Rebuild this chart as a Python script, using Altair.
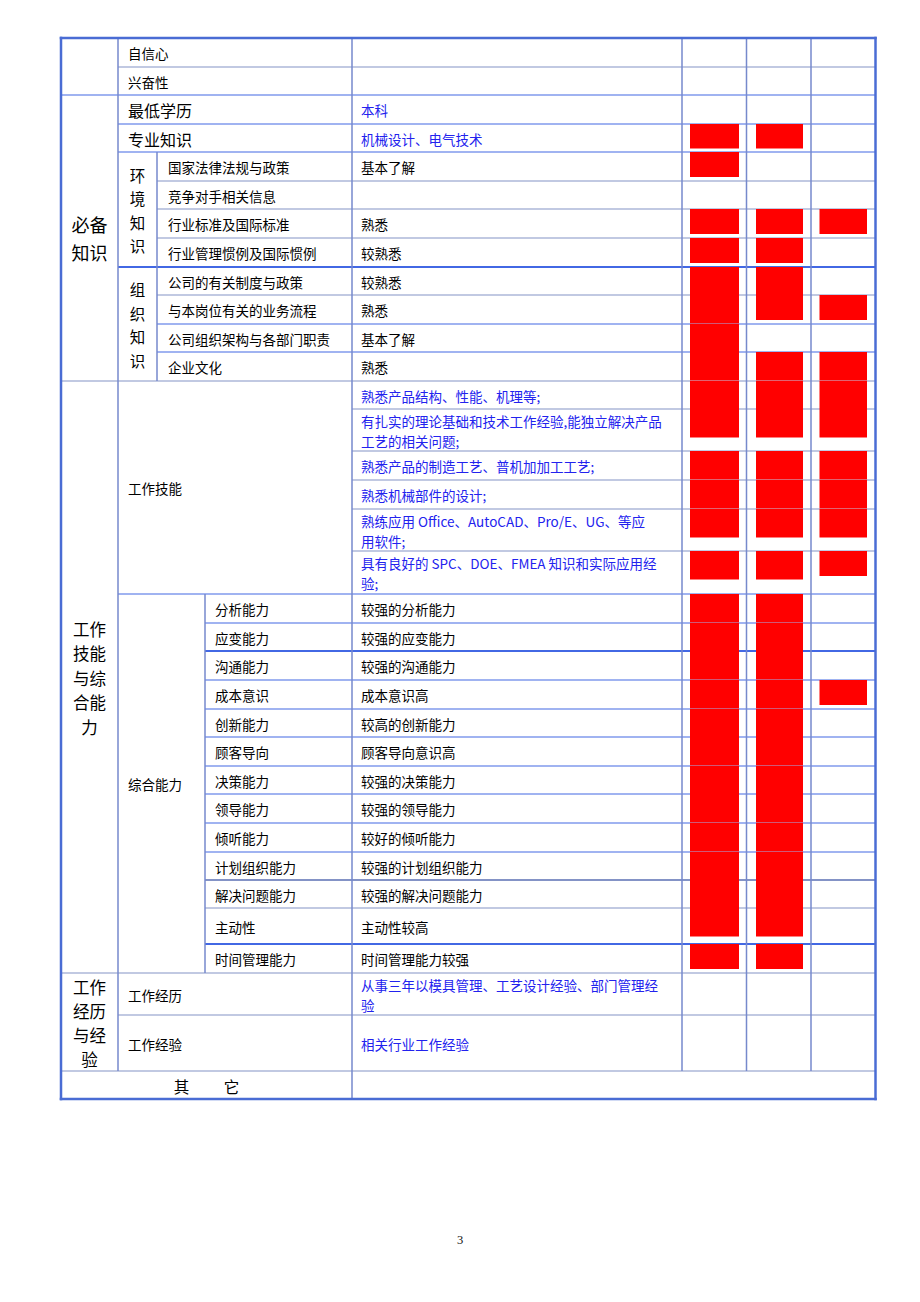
import altair as alt
import pandas as pd

# ---------------- data ----------------
items = ["自信心", "兴奋性", "最低学历", "专业知识",
         "国家法律法规与政策", "竞争对手相关信息", "行业标准及国际标准", "行业管理惯例及国际惯例",
         "公司的有关制度与政策", "与本岗位有关的业务流程", "公司组织架构与各部门职责", "企业文化",
         "", "", "", "", "", "",
         "分析能力", "应变能力", "沟通能力", "成本意识", "创新能力", "顾客导向", "决策能力",
         "领导能力", "倾听能力", "计划组织能力", "解决问题能力", "主动性", "时间管理能力",
         "工作经历", "工作经验", ""]

descriptions = ["", "", "本科", "机械设计、电气技术",
                "基本了解", "", "熟悉", "较熟悉",
                "较熟悉", "熟悉", "基本了解", "熟悉",
                "熟悉产品结构、性能、机理等;",
                "有扎实的理论基础和技术工作经验,能独立解决产品\n工艺的相关问题;",
                "熟悉产品的制造工艺、普机加加工工艺;",
                "熟悉机械部件的设计;",
                "熟练应用 Office、AutoCAD、Pro/E、UG、等应\n用软件;",
                "具有良好的 SPC、DOE、FMEA 知识和实际应用经\n验;",
                "较强的分析能力", "较强的应变能力", "较强的沟通能力", "成本意识高", "较高的创新能力",
                "顾客导向意识高", "较强的决策能力", "较强的领导能力", "较好的倾听能力",
                "较强的计划组织能力", "较强的解决问题能力", "主动性较高", "时间管理能力较强",
                "从事三年以模具管理、工艺设计经验、部门管理经\n验",
                "相关行业工作经验", ""]

col_a = [0, 0, 0, 1, 1, 0, 1, 1, 1, 1, 1, 1,
         1, 1, 1, 1, 1, 1,
         1, 1, 1, 1, 1, 1, 1, 1, 1, 1, 1, 1, 1,
         0, 0, 0]
col_b = [0, 0, 0, 1, 0, 0, 1, 1, 1, 1, 0, 1,
         1, 1, 1, 1, 1, 1,
         1, 1, 1, 1, 1, 1, 1, 1, 1, 1, 1, 1, 1,
         0, 0, 0]
col_c = [0, 0, 0, 0, 0, 0, 1, 0, 0, 1, 0, 1,
         1, 1, 1, 1, 1, 1,
         0, 0, 0, 1, 0, 0, 0, 0, 0, 0, 0, 0, 0,
         0, 0, 0]

group_labels = ["", "必备\n知识", "工作\n技能\n与综\n合能\n力", "工作\n经历\n与经\n验"]
sub_labels = ["环\n境\n知\n识", "组\n织\n知\n识"]
section_labels = ["工作技能", "综合能力"]
other_label = "其　　 它"
page_number = "3"

# ---------------- layout (positions / styles) ----------------
TOP = 38
row_heights = [29, 28, 29, 28, 29, 28, 29, 29, 28, 29, 28, 29, 28, 42, 29, 29, 42, 43,
               29, 28, 29, 29, 28, 29, 28, 29, 29, 28, 28, 36, 29, 42, 56, 28]
X0, X1, X2, X3, X4, XA, XB, XC, X5 = 61, 118, 157, 205, 352, 682, 746.5, 811, 875.5
red_cols = [(690, 739), (756, 803), (819.5, 867)]
gap_rows = {3, 4, 5, 6, 7}          # rows whose red block never joins the next one
group_spans = [(0, 2), (2, 12), (12, 31), (31, 33)]
group_sizes = [16, 18, 16.5, 16.5]
group_lh = [24, 28, 24.5, 24]
sub_spans = [(4, 8), (8, 12)]
section_spans = [(12, 18), (18, 31)]
item_x = [X1 + 10] * 4 + [X2 + 11] * 8 + [0] * 6 + [X3 + 10] * 13 + [X1 + 10] * 2 + [0]
item_size = [13.5, 13.5, 16, 16] + [13.5] * 30
BLUE_TXT = "#2222ee"
desc_blue = [0, 0, 1, 1] + [0] * 8 + [1] * 6 + [0] * 13 + [1, 1, 0]
h_start = [X1, X0, X1, X1, X2, X2, X2, X1, X2, X2, X2, X0,
           X4, X4, X4, X4, X4, X1,
           X3, X3, X3, X3, X3, X3, X3, X3, X3, X3, X3, X3, X0,
           X1, X0]
bright = {1, 2, 3, 7, 9, 10, 17, 18, 19, 20, 21, 22, 23, 24, 25, 26, 29}
thick = {7: 2, 19: 2, 27: 2, 29: 2}
DESC_LH = 20
SUB_LH = 23.5

tops = [TOP]
for h in row_heights:
    tops.append(tops[-1] + h)
BOTTOM = tops[-1]


def block_y(center, text, lh):
    """first-line position so that a multi-line block is centred"""
    n = text.count("\n") + 1
    return center - (n - 1) * lh / 2


def span_center(a, b):
    return (tops[a] + tops[b]) / 2

# ---------------- tables ----------------
lines = []
for i in range(len(row_heights) - 1):
    y = tops[i + 1]
    lines.append(dict(x=h_start[i], x2=X5, y=y, y2=y,
                      c="#4268e4" if i in bright else "#8493c6",
                      w=thick.get(i, 1.2)))
for xv, a, b in [(X1, TOP, tops[33]), (X2, tops[4], tops[12]), (X3, tops[18], tops[31]),
                 (X4, TOP, BOTTOM), (XA, TOP, tops[33]), (XB, TOP, tops[33]), (XC, TOP, tops[33])]:
    lines.append(dict(x=xv, x2=xv, y=a, y2=b, c="#7689cc", w=1.5))
lines_df = pd.DataFrame(lines)

border_df = pd.DataFrame([
    dict(x=X0, x2=X5, y=TOP, y2=TOP), dict(x=X0, x2=X5, y=BOTTOM, y2=BOTTOM),
    dict(x=X0, x2=X0, y=TOP, y2=BOTTOM), dict(x=X5, x2=X5, y=TOP, y2=BOTTOM)])

reds = []
for flags, (xa, xb) in zip([col_a, col_b, col_c], red_cols):
    for i, f in enumerate(flags):
        if f:
            h = min(row_heights[i], 28.5)
            nxt = flags[i + 1] if i + 1 < len(flags) else 0
            if not nxt or i in gap_rows:
                h -= 3.5
            reds.append(dict(x=xa, x2=xb, y=tops[i], y2=tops[i] + h))
red_df = pd.DataFrame(reds)

lt = []
for i, t in enumerate(items):
    if t:
        c = (tops[i] + tops[i + 1]) / 2
        lt.append(dict(x=item_x[i], y=block_y(c, t, DESC_LH), text=t,
                       size=item_size[i], c="#000000"))
for i, t in enumerate(descriptions):
    if t:
        c = (tops[i] + tops[i + 1]) / 2
        lt.append(dict(x=X4 + 9, y=block_y(c, t, DESC_LH), text=t,
                       size=13.5, c=BLUE_TXT if desc_blue[i] else "#000000"))
for t, (a, b) in zip(section_labels, section_spans):
    lt.append(dict(x=X1 + 10, y=span_center(a, b), text=t, size=13.5, c="#000000"))
left_df = pd.DataFrame(lt)

grp_layers = []
for t, (a, b), s, lh in zip(group_labels, group_spans, group_sizes, group_lh):
    if t:
        grp_layers.append((pd.DataFrame([dict(x=(X0 + X1) / 2, y=block_y(span_center(a, b), t, lh),
                                               text=t, size=s, c="#000000")]), lh))
sub_df = pd.DataFrame([dict(x=(X1 + X2) / 2, y=block_y(span_center(a, b), t, SUB_LH),
                            text=t, size=15.5, c="#000000")
                       for t, (a, b) in zip(sub_labels, sub_spans)])
other_df = pd.DataFrame([dict(x=(X0 + X4) / 2, y=span_center(33, 34), text=other_label,
                              size=15.5, c="#000000")])
page_df = pd.DataFrame([dict(x=460, y=1237, text=page_number, size=12.5, c="#111111")])

# ---------------- chart ----------------
xs = alt.Scale(domain=[8, 912], nice=False, zero=False)
ys = alt.Scale(domain=[8, 1294], nice=False, zero=False, reverse=True)
X = lambda f="x": alt.X(f"{f}:Q", scale=xs, axis=None)
Y = lambda f="y": alt.Y(f"{f}:Q", scale=ys, axis=None)

rules = alt.Chart(lines_df).mark_rule().encode(
    x=X(), x2="x2:Q", y=Y(), y2="y2:Q",
    color=alt.Color("c:N", scale=None), size=alt.Size("w:Q", scale=None))

border = alt.Chart(border_df).mark_rule(color="#4a6cd4", strokeWidth=2.5, strokeCap="square").encode(
    x=X(), x2="x2:Q", y=Y(), y2="y2:Q")

red = alt.Chart(red_df).mark_rect(color="#ff0000").encode(
    x=X(), x2="x2:Q", y=Y(), y2="y2:Q")

FONT = "Noto Sans CJK SC"


def txt(df, align, lh, font=FONT):
    return alt.Chart(df).mark_text(align=align, baseline="middle", font=font,
                                   lineBreak="\n", lineHeight=lh, dy=2.5).encode(
        x=X(), y=Y(), text="text:N",
        color=alt.Color("c:N", scale=None), size=alt.Size("size:Q", scale=None))


layers = [rules, red, border, txt(left_df, "left", DESC_LH)]
layers += [txt(df, "center", lh) for df, lh in grp_layers]
layers += [txt(sub_df, "center", SUB_LH), txt(other_df, "center", 20),
           txt(page_df, "center", 14, font="Liberation Serif")]

chart = alt.layer(*layers).properties(
    width=904, height=1286, padding=0,
    autosize=alt.AutoSizeParams(type="none"),
    background="white",
).configure_view(stroke=None)

chart.save("out.html", embed_options={"renderer": "svg", "actions": False})
